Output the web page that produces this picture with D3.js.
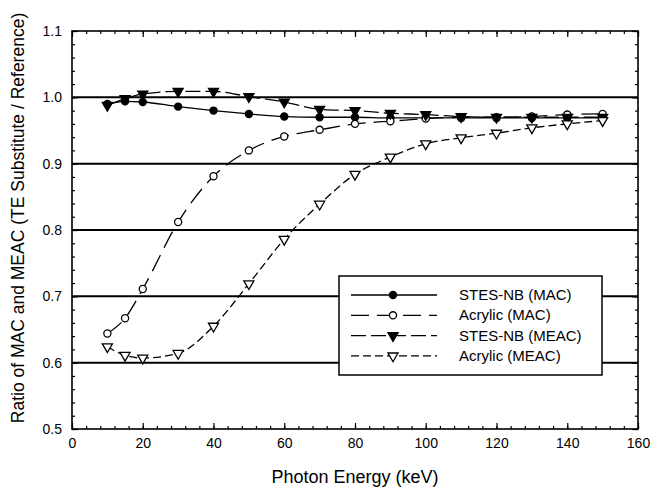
<!DOCTYPE html>
<html>
<head>
<meta charset="utf-8">
<script src="https://cdn.jsdelivr.net/npm/d3@7"></script>
<style>
  body { margin: 0; background: #fff; }
  svg { font-family: "Liberation Sans", Arial, sans-serif; }
  .axis path { display: none; }
  .axis line { stroke: #000; stroke-width: 1.2px; }
  .axis text { font-size: 14px; fill: #000; }
</style>
</head>
<body>
<svg id="chart" width="653" height="492"></svg>
<script>
// photon energy (keV)
var energy = [10, 15, 20, 30, 40, 50, 60, 70, 80, 90, 100, 110, 120, 130, 140, 150];

// ratios
var stesMac    = [0.990, 0.994, 0.993, 0.986, 0.980, 0.975, 0.971, 0.970, 0.970, 0.969, 0.969, 0.969, 0.969, 0.969, 0.969, 0.969];
var acrylicMac = [0.644, 0.667, 0.711, 0.812, 0.881, 0.920, 0.941, 0.951, 0.960, 0.964, 0.968, 0.970, 0.970, 0.971, 0.974, 0.975];
var stesMeac   = [0.988, 0.998, 1.005, 1.009, 1.009, 1.001, 0.993, 0.982, 0.980, 0.976, 0.974, 0.971, 0.970, 0.970, 0.970, 0.970];
var acrylicMeac = [0.624, 0.611, 0.607, 0.614, 0.655, 0.719, 0.786, 0.839, 0.884, 0.910, 0.930, 0.939, 0.946, 0.954, 0.960, 0.965];

var xTicks = [0, 20, 40, 60, 80, 100, 120, 140, 160];
var yTicks = [0.5, 0.6, 0.7, 0.8, 0.9, 1.0, 1.1];
var gridValues = [0.6, 0.7, 0.8, 0.9, 1.0];

var series = [
  { name: 'STES-NB (MAC)',   values: stesMac,    marker: 'circle',   fill: '#000', dash: null },
  { name: 'Acrylic (MAC)',   values: acrylicMac, marker: 'circle',   fill: '#fff', dash: '18,8' },
  { name: 'STES-NB (MEAC)',  values: stesMeac,   marker: 'triangle', fill: '#000', dash: '15,5' },
  { name: 'Acrylic (MEAC)',  values: acrylicMeac, marker: 'triangle', fill: '#fff', dash: '8,4' }
];

var margin = { top: 31, right: 15, bottom: 63, left: 72 };
var width = 653, height = 492;
var w = width - margin.left - margin.right;
var h = height - margin.top - margin.bottom;

var svg = d3.select('#chart');
var g = svg.append('g').attr('transform', 'translate(' + margin.left + ',' + margin.top + ')');

var x = d3.scaleLinear().domain([0, 160]).range([0, w]);
var y = d3.scaleLinear().domain([0.5, 1.1]).range([h, 0]);

// minor ticks
var xMinor = d3.range(0, 161, 4);
var yMinor = d3.range(0, 31).map(function(i) { return +(0.5 + i * 0.02).toFixed(2); });

// grid lines
g.selectAll('.grid').data(gridValues).enter().append('line')
  .attr('class', 'grid')
  .attr('x1', 0).attr('x2', w)
  .attr('y1', function(d) { return y(d); })
  .attr('y2', function(d) { return y(d); })
  .attr('stroke', '#000').attr('stroke-width', 2);

// axes: labels + major ticks inward
g.append('g').attr('class', 'axis').attr('transform', 'translate(0,' + h + ')')
  .call(d3.axisBottom(x).tickValues(xTicks).tickSize(-6).tickPadding(9));
g.append('g').attr('class', 'axis').attr('transform', 'translate(0,' + h + ')')
  .call(d3.axisBottom(x).tickValues(xMinor).tickSize(-3).tickFormat(''));
g.append('g').attr('class', 'axis')
  .call(d3.axisTop(x).tickValues(xTicks).tickSize(-6).tickFormat(''));
g.append('g').attr('class', 'axis')
  .call(d3.axisTop(x).tickValues(xMinor).tickSize(-3).tickFormat(''));

g.append('g').attr('class', 'axis')
  .call(d3.axisLeft(y).tickValues(yTicks).tickSize(-6).tickPadding(10).tickFormat(d3.format('.1f')));
g.append('g').attr('class', 'axis')
  .call(d3.axisLeft(y).tickValues(yMinor).tickSize(-3).tickFormat(''));
g.append('g').attr('class', 'axis').attr('transform', 'translate(' + w + ',0)')
  .call(d3.axisRight(y).tickValues(yTicks).tickSize(-6).tickFormat(''));
g.append('g').attr('class', 'axis').attr('transform', 'translate(' + w + ',0)')
  .call(d3.axisRight(y).tickValues(yMinor).tickSize(-3).tickFormat(''));

// frame
g.append('rect').attr('width', w).attr('height', h)
  .attr('fill', 'none').attr('stroke', '#000').attr('stroke-width', 1.6);

// marker symbols
function markerPath(type) {
  if (type === 'circle') return d3.symbol().type(d3.symbolCircle).size(40)();
  return d3.symbol().type(d3.symbolTriangle).size(44)();
}

var line = d3.line()
  .x(function(d) { return x(d[0]); })
  .y(function(d) { return y(d[1]); })
  .curve(d3.curveMonotoneX);

series.forEach(function(s) {
  var pts = energy.map(function(e, i) { return [e, s.values[i]]; });
  g.append('path').datum(pts)
    .attr('d', line)
    .attr('fill', 'none')
    .attr('stroke', '#000')
    .attr('stroke-width', 1.3)
    .attr('stroke-dasharray', s.dash);
});

series.forEach(function(s) {
  var pts = energy.map(function(e, i) { return [e, s.values[i]]; });
  g.selectAll(null).data(pts).enter().append('path')
    .attr('d', markerPath(s.marker))
    .attr('transform', function(d) {
      return 'translate(' + x(d[0]) + ',' + y(d[1]) + ')' + (s.marker === 'triangle' ? ' rotate(180)' : '');
    })
    .attr('fill', s.fill)
    .attr('stroke', '#000')
    .attr('stroke-width', 1.3);
});

// legend
var legend = svg.append('g').attr('transform', 'translate(339,276)');
legend.append('rect').attr('width', 263).attr('height', 99)
  .attr('fill', '#fff').attr('stroke', '#000').attr('stroke-width', 1.5);

var rows = legend.selectAll('.row').data(series).enter().append('g')
  .attr('transform', function(d, i) { return 'translate(0,' + (19 + i * 20.3) + ')'; });
rows.append('line')
  .attr('x1', 12).attr('x2', 98)
  .attr('stroke', '#000').attr('stroke-width', 1.3)
  .attr('stroke-dasharray', function(d) { return d.dash; });
rows.append('path')
  .attr('d', function(d) { return markerPath(d.marker); })
  .attr('transform', function(d) { return 'translate(54,0)' + (d.marker === 'triangle' ? ' rotate(180)' : ''); })
  .attr('fill', function(d) { return d.fill; })
  .attr('stroke', '#000').attr('stroke-width', 1.3);
rows.append('text')
  .attr('x', 120).attr('y', 5)
  .attr('font-size', 15)
  .text(function(d) { return d.name; });

// axis titles
svg.append('text')
  .attr('x', margin.left + w / 2).attr('y', 483)
  .attr('text-anchor', 'middle').attr('font-size', 18)
  .text('Photon Energy (keV)');
svg.append('text')
  .attr('transform', 'translate(24,' + (margin.top + h / 2 - 12) + ') rotate(-90)')
  .attr('text-anchor', 'middle').attr('font-size', 17.5)
  .text('Ratio of MAC and MEAC (TE Substitute / Reference)');
</script>
</body>
</html>
